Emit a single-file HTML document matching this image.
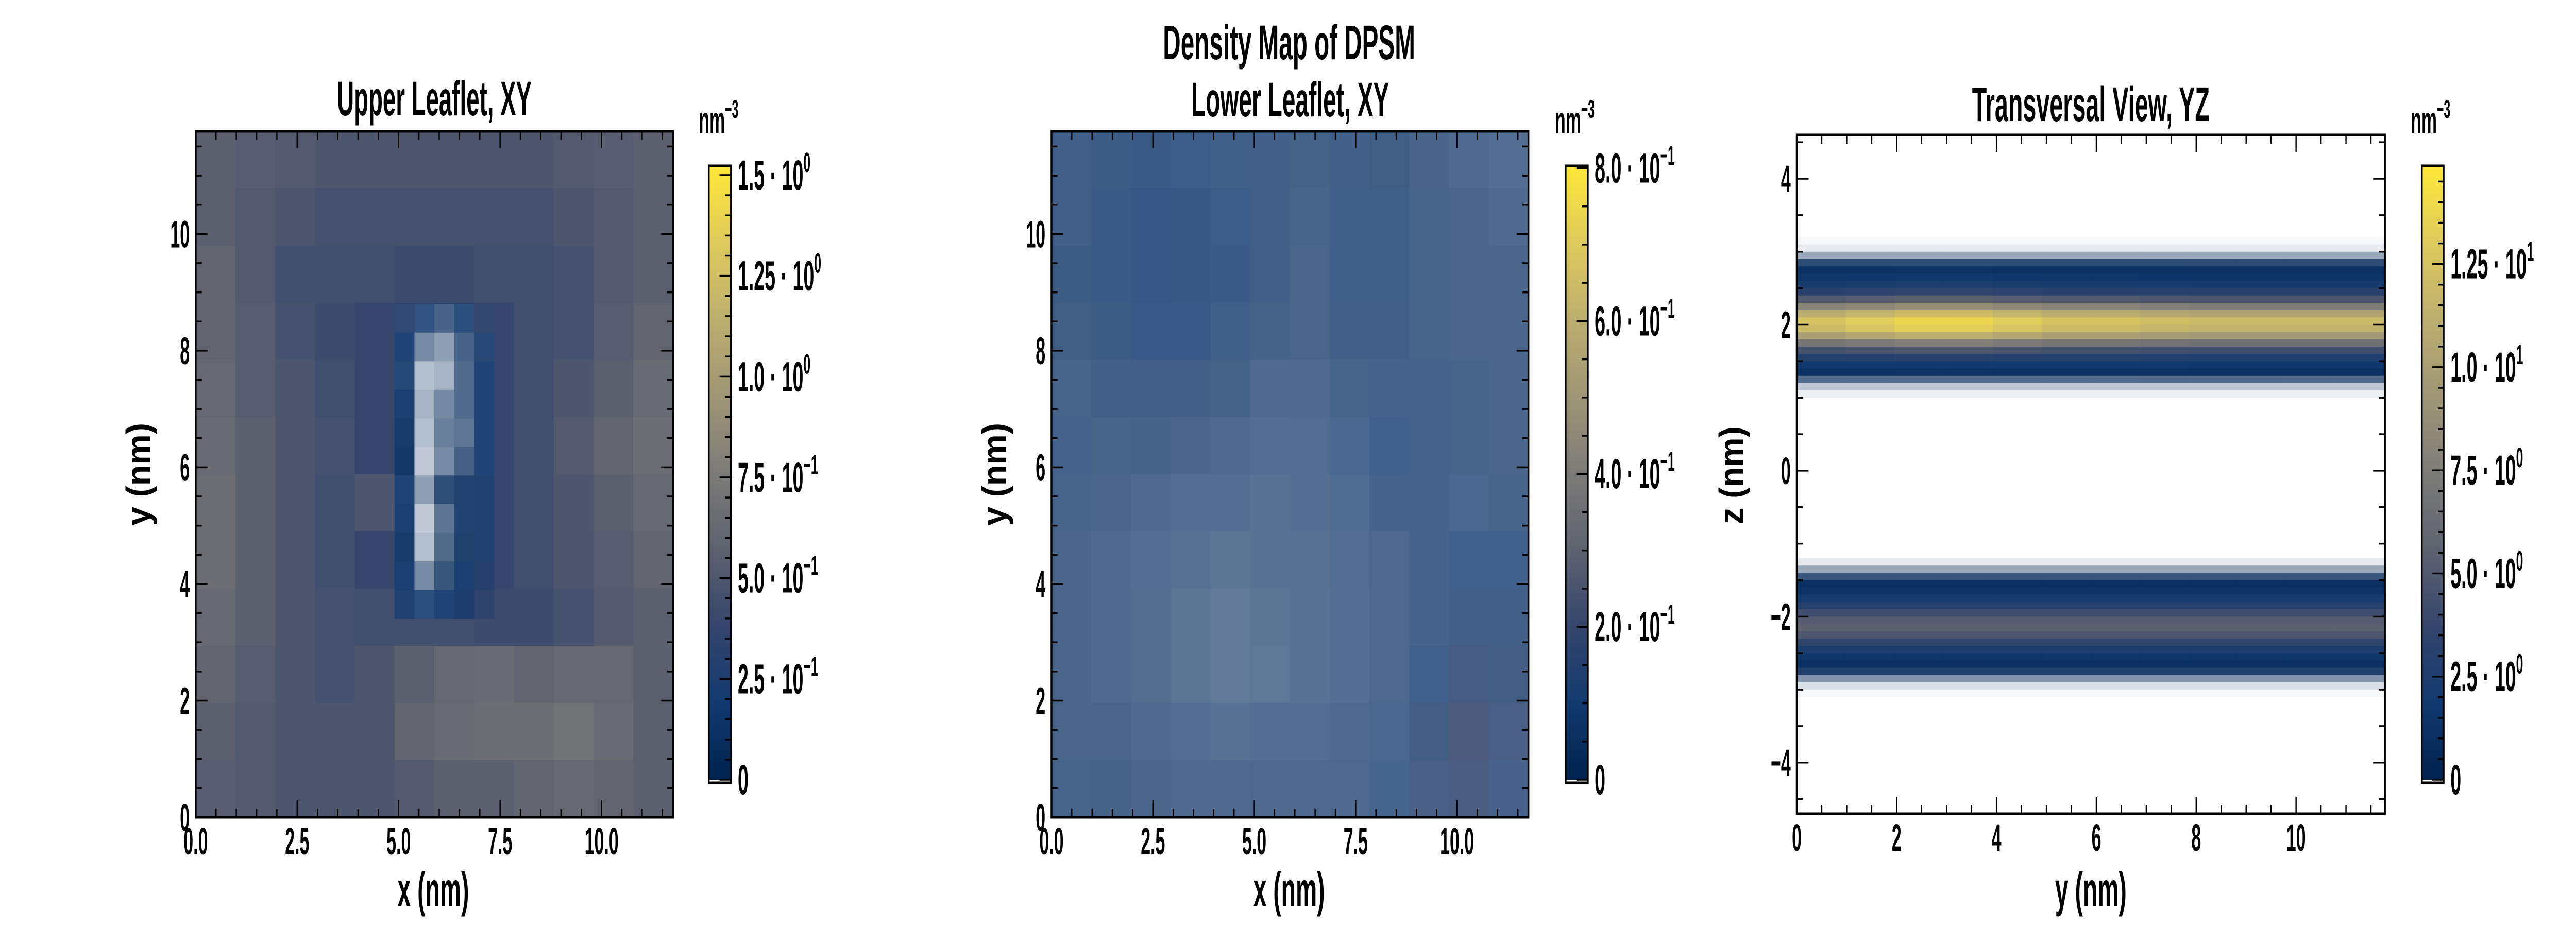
<!DOCTYPE html>
<html><head><meta charset="utf-8"><title>Density Map of DPSM</title>
<style>html,body{margin:0;padding:0;background:#fff;overflow:hidden}svg{display:block;width:100vw;height:100vh}</style></head>
<body>
<svg id="fig" xmlns="http://www.w3.org/2000/svg" viewBox="0 0 7200 1800" preserveAspectRatio="none">
<defs>
<linearGradient id="cvd" x1="0" y1="1" x2="0" y2="0">
<stop offset="0" stop-color="#00224e"/><stop offset="0.125" stop-color="#123a6f"/><stop offset="0.25" stop-color="#35456c"/><stop offset="0.375" stop-color="#5e626e"/><stop offset="0.5" stop-color="#7c7b78"/><stop offset="0.625" stop-color="#9f9676"/><stop offset="0.75" stop-color="#bcaf6f"/><stop offset="0.875" stop-color="#dfcb5d"/><stop offset="1" stop-color="#fee838"/>
</linearGradient>
</defs>
</svg>
<script>
// ---------- data ----------
const upperRow0=[.56,.54,.52,.49,.49,.49,.49,.49,.49,.52,.54,.56];
const upperRow1=[.56,.52,.49,.46,.46,.46,.46,.46,.46,.49,.52,.56];
const upperRow2=[.59,.52,.44,.44,.44,.42,.42,.44,.44,.46,.52,.56];
const upperRow3=[.59,.54,.46,.42,.39,.34,.32,.39,.44,.46,.54,.59];
const upperRow4=[.62,.54,.49,.44,.39,.24,.24,.39,.44,.49,.56,.64];
const upperRow5=[.64,.56,.49,.46,.39,.24,.24,.39,.44,.52,.59,.66];
const upperRow6=[.66,.56,.49,.44,.49,.29,.26,.39,.44,.49,.56,.62];
const upperRow7=[.66,.56,.49,.44,.39,.29,.29,.39,.44,.49,.54,.59];
const upperRow8=[.62,.56,.49,.46,.44,.44,.44,.42,.42,.46,.52,.56];
const upperRow9=[.59,.54,.49,.46,.49,.56,.62,.64,.59,.62,.62,.56];
const upperRow10=[.56,.52,.49,.49,.49,.59,.64,.66,.66,.69,.64,.56];
const upperRow11=[.54,.52,.49,.49,.49,.52,.56,.56,.59,.62,.59,.56];
const upperGrid=[upperRow0,upperRow1,upperRow2,upperRow3,upperRow4,upperRow5,upperRow6,upperRow7,upperRow8,upperRow9,upperRow10,upperRow11];
const holeVal=[[.30,.15,.10,.20,.35],[.20,.07,.06,.10,.25],[.15,.05,.05,.07,.20],[.15,.05,.05,.07,.20],[.12,.05,.06,.07,.20],[.10,.05,.06,.07,.20],[.20,.07,.10,.10,.25],[.15,.05,.06,.10,.25],[.12,.05,.05,.08,.25],[.15,.07,.07,.15,.30],[.25,.20,.20,.25,.35]];
const holeEmpty=[[.05,.15,.25,.10,.02],[.05,.45,.55,.25,.05],[.10,.70,.65,.30,.05],[.05,.65,.45,.30,.05],[.05,.70,.40,.35,.05],[.05,.75,.45,.25,.05],[.05,.55,.15,.10,.02],[.05,.75,.35,.10,.02],[.05,.70,.30,.10,.02],[.05,.45,.20,.05,0],[.02,.10,.05,0,0]];
const lowerVal=[[.07,.07,.09,.10,.09,.07,.06,.07,.06,.06,.06,.06],[.07,.09,.11,.12,.10,.07,.07,.09,.09,.07,.06,.06],[.07,.09,.11,.12,.11,.07,.06,.09,.09,.07,.06,.06],[.06,.07,.10,.10,.09,.06,.06,.07,.07,.07,.06,.06],[.07,.07,.07,.07,.06,.06,.06,.07,.09,.09,.07,.06],[.09,.07,.06,.06,.06,.06,.07,.09,.10,.09,.07,.06],[.07,.06,.06,.06,.06,.06,.06,.09,.09,.09,.09,.07],[.06,.06,.06,.05,.05,.06,.06,.07,.07,.09,.10,.10],[.06,.06,.05,.05,.05,.05,.06,.06,.07,.09,.12,.12],[.06,.06,.05,.05,.05,.06,.06,.06,.07,.10,.16,.14],[.06,.06,.06,.06,.06,.06,.06,.06,.09,.14,.20,.16],[.07,.06,.06,.06,.06,.07,.07,.07,.10,.16,.18,.12]];
const lowerEmpty=[[.22,.20,.18,.18,.20,.22,.24,.22,.22,.25,.28,.30],[.22,.18,.14,.14,.18,.22,.24,.20,.20,.24,.26,.28],[.20,.18,.14,.14,.16,.22,.26,.20,.20,.24,.26,.26],[.22,.20,.16,.16,.20,.24,.26,.22,.22,.24,.26,.26],[.24,.22,.22,.22,.24,.28,.28,.24,.22,.22,.24,.26],[.22,.24,.24,.26,.28,.30,.28,.24,.20,.22,.24,.26],[.24,.26,.28,.30,.30,.32,.30,.26,.22,.22,.24,.24],[.26,.28,.30,.32,.34,.32,.32,.28,.26,.22,.20,.20],[.26,.28,.30,.34,.36,.34,.32,.30,.26,.22,.18,.18],[.26,.28,.30,.34,.36,.34,.32,.30,.26,.20,.14,.16],[.26,.26,.28,.30,.32,.30,.30,.28,.24,.16,.12,.16],[.24,.24,.26,.28,.28,.26,.26,.26,.22,.16,.14,.20]];
const zBins=[3.15,3.05,2.95,2.85,2.75,2.65,2.55,2.45,2.35,2.25,2.15,2.05,1.95,1.85,1.75,1.65,1.55,1.45,1.35,1.25,1.15,1.05,-1.25,-1.35,-1.45,-1.55,-1.65,-1.75,-1.85,-1.95,-2.05,-2.15,-2.25,-2.35,-2.45,-2.55,-2.65,-2.75,-2.85,-2.95,-3.05];
const zDensity=[0,.2,.4,.8,1.2,1.6,2.2,3.2,5,8,11,12.5,12,10,7,4.5,2.8,1.8,1.2,.7,.4,.2,.2,.4,.7,1.0,1.4,2.0,3.0,4.2,5.2,5.5,4.8,3.5,2.4,1.6,1.1,.7,.4,.2,0];
const zEmpty=[.97,.9,.6,.15,0,0,0,0,0,0,0,0,0,0,0,0,0,0,0,.3,.75,.93,.9,.6,.2,0,0,0,0,0,0,0,0,0,0,0,0,.1,.5,.85,.97];
const yFactor=[1.0,1.05,1.1,1.1,1.05,1.0,1.0,0.97,0.95,0.95,0.95,0.95];
const xyTicksX=[0,2.5,5,7.5,10], xyTickLabelsX=["0.0","2.5","5.0","7.5","10.0"];
const xyTicksY=[0,2,4,6,8,10], xyTickLabelsY=["0","2","4","6","8","10"];
const yzTicksX=[0,2,4,6,8,10], yzTicksY=[-4,-2,0,2,4];
const cb1Ticks=[0,.25,.5,.75,1.0,1.25,1.5], cb1Labels=[["0",""],["2.5 · 10","−1"],["5.0 · 10","−1"],["7.5 · 10","−1"],["1.0 · 10","0"],["1.25 · 10","0"],["1.5 · 10","0"]];
const cb2Ticks=[0,.2,.4,.6,.8], cb2Labels=[["0",""],["2.0 · 10","−1"],["4.0 · 10","−1"],["6.0 · 10","−1"],["8.0 · 10","−1"]];
const cb3Ticks=[0,2.5,5,7.5,10,12.5], cb3Labels=[["0",""],["2.5 · 10","0"],["5.0 · 10","0"],["7.5 · 10","0"],["1.0 · 10","1"],["1.25 · 10","1"]];

// ---------- helpers ----------
const NS="http://www.w3.org/2000/svg", svg=document.getElementById('fig');
function mk(tag,attrs,parent){const e=document.createElementNS(NS,tag);for(const k in attrs)e.setAttribute(k,attrs[k]);(parent||svg).appendChild(e);return e;}
const stops=[[0,[0,34,78]],[.125,[18,58,111]],[.25,[53,69,108]],[.375,[94,98,110]],[.5,[124,123,120]],[.625,[159,150,118]],[.75,[188,175,111]],[.875,[223,203,93]],[1,[254,232,56]]];
function cividis(t,empty){t=Math.max(0,Math.min(1,t));let i=0;while(i<stops.length-2&&t>stops[i+1][0])i++;
 const a=stops[i],b=stops[i+1],f=(t-a[0])/(b[0]-a[0]);const c=a[1].map((v,k)=>v+(b[1][k]-v)*f);
 const e=empty||0;return 'rgb('+c.map(v=>Math.round(v+(255-v)*e)).join(',')+')';}
const FONT='"Liberation Sans Narrow","Liberation Sans",sans-serif';
function txt(x,y,s,size,anchor){
 const g=mk('g',{transform:`translate(${x},${y}) scale(0.66,1)`});
 const t=mk('text',{x:0,y:0,'font-family':FONT,'font-size':size,'font-weight':'bold','text-anchor':anchor||'start',fill:'#000'},g);
 t.textContent=s;return [g,t];}
function makeAxes(name,L,R,T,B,x0,x1,y0,y1){
 const ax={L,R,T,B,sx:v=>L+(v-x0)/(x1-x0)*(R-L),sy:v=>B-(v-y0)/(y1-y0)*(B-T),x0,x1,y0,y1};
 const cp=mk('clipPath',{id:'clip-'+name},svg.querySelector('defs'));mk('rect',{x:L,y:T,width:R-L,height:B-T},cp);
 ax.g=mk('g',{'clip-path':`url(#clip-${name})`});
 
 
 return ax;}
function frame(ax,name,xt,xl,yt,yl,minorStep){
 const g=mk('g',{});
 
 
 mk('rect',{x:ax.L,y:ax.T,width:ax.R-ax.L,height:ax.B-ax.T,fill:'none',stroke:'#000','stroke-width':5},g);
 for(let v=Math.ceil(ax.x0/minorStep)*minorStep;v<=ax.x1+1e-9;v+=minorStep){const x=ax.sx(v);const maj=xt.some(t=>Math.abs(t-v)<1e-6);const len=maj?33:17;
  mk('line',{x1:x,y1:ax.B,x2:x,y2:ax.B-len,stroke:'#000','stroke-width':3.5},g);mk('line',{x1:x,y1:ax.T,x2:x,y2:ax.T+len,stroke:'#000','stroke-width':3.5},g);}
 for(let v=Math.ceil(ax.y0/minorStep)*minorStep;v<=ax.y1+1e-9;v+=minorStep){const y=ax.sy(v);const maj=yt.some(t=>Math.abs(t-v)<1e-6);const len=maj?33:17;
  mk('line',{x1:ax.L,y1:y,x2:ax.L+len,y2:y,stroke:'#000','stroke-width':3.5},g);mk('line',{x1:ax.R,y1:y,x2:ax.R-len,y2:y,stroke:'#000','stroke-width':3.5},g);}
 xt.forEach((v,i)=>{const [tg]=txt(ax.sx(v),ax.B+72,xl[i],74,'middle');});
 yt.forEach((v,i)=>{const [tg]=txt(ax.L-17,ax.sy(v)+26,yl[i],74,'end');});
}
function label(x,y,s,size,len,bold,rot,nm){
 const t=mk('text',{x:0,y:0,'font-family':FONT,'font-size':size,'text-anchor':'middle','font-weight':bold?'bold':'normal',textLength:len,lengthAdjust:'spacingAndGlyphs',transform:`translate(${x},${y})`+(rot?` rotate(${rot})`:'')});
 t.textContent=s;return t;}
function colorbar(name,L,R,T,B,zeroY,vmax,ticks,labels,minor){
 const g=mk('g',{});
 
 
 const cy=v=>zeroY-v/vmax*(zeroY-T);
 mk('rect',{x:L,y:T,width:R-L,height:zeroY-T,fill:'url(#cvd)'},g);
 mk('rect',{x:L,y:zeroY,width:R-L,height:B-zeroY,fill:'#fff'},g);
 mk('rect',{x:L,y:T,width:R-L,height:B-T,fill:'none',stroke:'#000','stroke-width':5},g);
 for(let v=0;v<=vmax+1e-9;v+=minor){const y=cy(v);const maj=ticks.some(t=>Math.abs(t-v)<1e-6);
  mk('line',{x1:R,y1:y,x2:R-(maj?32:16),y2:y,stroke:'#000','stroke-width':3.5},g);}
 ticks.forEach((v,i)=>{const g2=mk('g',{transform:`translate(${R+19},${cy(v)+28}) scale(0.66,1)`},g);
  const t=mk('text',{x:0,y:0,'font-family':FONT,'font-size':82,'font-weight':'bold',fill:'#000'},g2);
  
  t.appendChild(document.createTextNode(labels[i][0]));
  if(labels[i][1]){const s=mk('tspan',{dy:-34,'font-size':54},t);s.textContent=labels[i][1];}});
 return g;}
function unit(x,y){const g=mk('g',{transform:`translate(${x},${y}) scale(0.66,1)`});
 const t=mk('text',{x:0,y:0,'font-family':FONT,'font-size':74,'font-weight':'bold',fill:'#000'},g);
 
 t.appendChild(document.createTextNode('nm'));const s=mk('tspan',{dy:-30,'font-size':50},t);s.textContent='−3';}

// ---------- panel 1 ----------
const ax1=makeAxes('upper-leaflet',547,1881,255,1587,0,11.76,0,11.76);
const vmax1=1.523;
{const n=upperGrid.length,w=11.76/n;
 upperGrid.forEach((row,r)=>row.forEach((v,c)=>{const x0=c*w,y1=11.76-r*w;
  const e=mk('rect',{x:ax1.sx(x0),y:ax1.sy(y1),width:ax1.sx(x0+w)-ax1.sx(x0)+0.6,height:ax1.sy(y1-w)-ax1.sy(y1)+0.6,fill:cividis(v/vmax1)},ax1.g);
  
  }));
 const hw=0.49,hx=4.9,hy=8.8;
 holeVal.forEach((row,r)=>row.forEach((v,c)=>{const x0=hx+c*hw,y1=hy-r*hw;
  const e=mk('rect',{x:ax1.sx(x0),y:ax1.sy(y1),width:ax1.sx(x0+hw)-ax1.sx(x0)+0.6,height:ax1.sy(y1-hw)-ax1.sy(y1)+0.6,fill:cividis(v/vmax1,holeEmpty[r][c])},ax1.g);
  
  }));}
frame(ax1,'upper-leaflet',xyTicksX,xyTickLabelsX,xyTicksY,xyTickLabelsY,0.5);
label(1214,224,'Upper Leaflet, XY',95,544,true,0,'upper-leaflet-title');
label(1211,1760,'x (nm)',95,200,true,0,'upper-x-axis-title');
label(420,921,'y (nm)',95,200,true,-90,'upper-y-axis-title');
colorbar('upper-colorbar',1981,2043,322,1520,1514,vmax1,cb1Ticks,cb1Labels,0.05);
unit(1953,259);

// ---------- panel 2 ----------
const ax2=makeAxes('lower-leaflet',2939,4272,255,1587,0,11.76,0,11.76);
const vmax2=0.803;
{const n=lowerVal.length,w=11.76/n;
 lowerVal.forEach((row,r)=>row.forEach((v,c)=>{const x0=c*w,y1=11.76-r*w;
  const e=mk('rect',{x:ax2.sx(x0),y:ax2.sy(y1),width:ax2.sx(x0+w)-ax2.sx(x0)+0.6,height:ax2.sy(y1-w)-ax2.sy(y1)+0.6,fill:cividis(v/vmax2,lowerEmpty[r][c])},ax2.g);
  
  }));}
frame(ax2,'lower-leaflet',xyTicksX,xyTickLabelsX,xyTicksY,xyTickLabelsY,0.5);
label(3603,115,'Density Map of DPSM',95,705,true,0,'figure-title');
label(3606,226,'Lower Leaflet, XY',95,553,true,0,'lower-leaflet-title');
label(3603,1760,'x (nm)',95,200,true,0,'lower-x-axis-title');
label(2812,921,'y (nm)',95,200,true,-90,'lower-y-axis-title');
colorbar('lower-colorbar',4376,4438,322,1520,1514,vmax2,cb2Ticks,cb2Labels,0.05);
unit(4346,259);

// ---------- panel 3 ----------
const ax3=makeAxes('transversal',5022,6666,262,1580,0,11.78,-4.7,4.6);
const vmax3=14.88;
{const bw=0.1,cw=11.78/yFactor.length;
 zBins.forEach((z,i)=>yFactor.forEach((f,c)=>{const v=z>0?zDensity[i]*f:zDensity[i];
  const e=mk('rect',{x:ax3.sx(c*cw),y:ax3.sy(z+bw/2),width:ax3.sx((c+1)*cw)-ax3.sx(c*cw)+0.6,height:ax3.sy(z-bw/2)-ax3.sy(z+bw/2)+0.6,fill:cividis(v/vmax3,zEmpty[i])},ax3.g);
  
  }));}
frame(ax3,'transversal',yzTicksX,yzTicksX.map(String),yzTicksY,yzTicksY.map(v=>v<0?'−'+(-v):String(v)),0.5);
label(5844,235,'Transversal View, YZ',95,664,true,0,'transversal-title');
label(5844,1760,'y (nm)',95,200,true,0,'transversal-x-axis-title');
label(4872,923,'z (nm)',95,190,true,-90,'transversal-y-axis-title');
colorbar('transversal-colorbar',6769,6830,322,1520,1514,vmax3,cb3Ticks,cb3Labels,0.5);
unit(6738,259);
</script>
</body></html>
